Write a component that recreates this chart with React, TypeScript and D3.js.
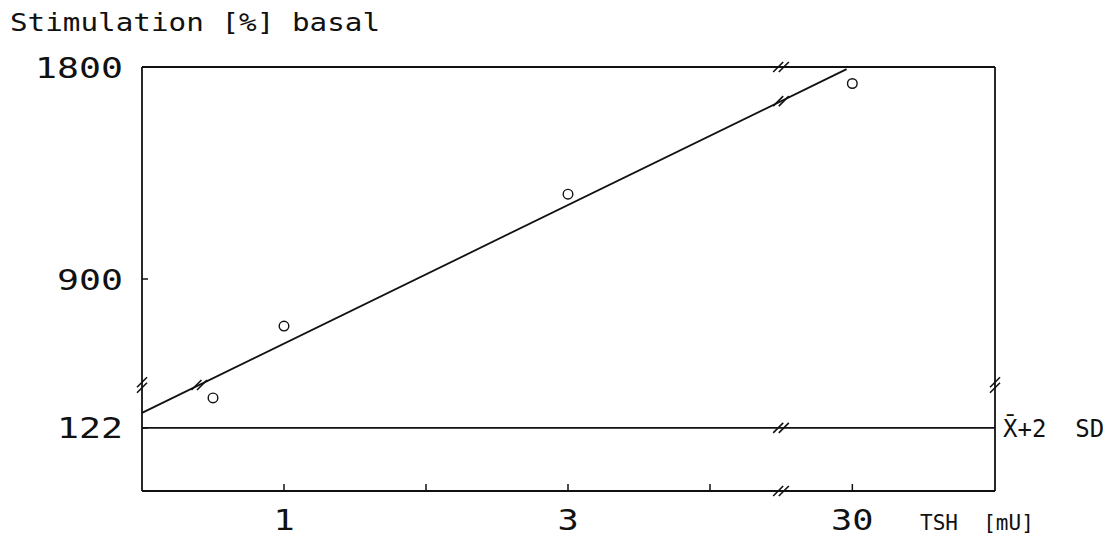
import React from "react";
import * as d3 from "d3";

// TSH dose (mU) and stimulation (% of basal)
const doseValues = [0.5, 1, 3, 30];
const stimulationValues = [180, 700, 1260, 1730];

// regression line end points
const fitDose = [0, 29.6];
const fitStimulation = [151, 1791];

// upper reference level (mean + 2 SD)
const thresholdValue = 122;

const xTickValues = [1, 2, 3, 4, 30];
const xTickLabels = ["1", "", "3", "", "30"];
const yTickValues = [122, 900, 1800];
const yTickLabels = ["122", "900", "1800"];

const W = 1117;
const H = 540;
const left = 142;
const right = 995;
const top = 67;
const bottom = 491;

// broken axes: x jumps from 4.5 to 25, y jumps from 205 to 450
const xBreak = [4.5, 25];
const yBreak = [205, 450];

const x = d3
  .scaleLinear()
  .domain([0, xBreak[0], xBreak[1], 40])
  .range([left, 781, 781, right]);

const y = d3
  .scaleLinear()
  .domain([0, yBreak[0], yBreak[1], 1800])
  .range([bottom, 385, 385, top]);

const FONT = "'DejaVu Sans Mono', monospace";
const INK = "#111";

function Label({
  x,
  y,
  text,
  size,
  sx = 1,
  anchor = "start",
}: {
  x: number;
  y: number;
  text: string;
  size: number;
  sx?: number;
  anchor?: "start" | "middle" | "end";
}) {
  return (
    <text
      transform={`translate(${x},${y}) scale(${sx},1)`}
      textAnchor={anchor}
      fontFamily={FONT}
      fontSize={size}
      fill={INK}
    >
      {text}
    </text>
  );
}

function BreakMark({ cx, cy, vertical = false }: { cx: number; cy: number; vertical?: boolean }) {
  const offs = [-2.8, 2.8];
  return (
    <g stroke={INK} strokeWidth={1.6}>
      {offs.map((o, i) => {
        const dx = vertical ? 0 : o;
        const dy = vertical ? o : 0;
        return (
          <line
            key={i}
            x1={cx + dx - 5}
            y1={cy + dy + 5}
            x2={cx + dx + 5}
            y2={cy + dy - 5}
          />
        );
      })}
    </g>
  );
}

export default function App() {
  const fitPts = fitDose.map((d, i) => [x(d), y(fitStimulation[i])] as [number, number]);
  const fitLine = d3.line()(fitPts) || "";
  const [p0, p1] = fitPts;
  // where the fitted line crosses the axis breaks
  const bx = x(xBreak[0]);
  const lineYAtBx = p0[1] + ((bx - p0[0]) / (p1[0] - p0[0])) * (p1[1] - p0[1]);
  const by = y(yBreak[0]);
  const lineXAtBy = p0[0] + ((by - p0[1]) / (p1[1] - p0[1])) * (p1[0] - p0[0]);

  return (
    <svg
      width={W}
      height={H}
      style={{ position: "absolute", left: 0, top: 0, background: "#fff" }}
    >
      <rect width={W} height={H} fill="#fff" />

      {/* frame */}
      <g stroke={INK} strokeWidth={1.8} fill="none">
        <line x1={left} y1={top} x2={right} y2={top} />
        <line x1={left} y1={bottom} x2={right} y2={bottom} />
        <line x1={left} y1={top} x2={left} y2={bottom} />
        <line x1={right} y1={top} x2={right} y2={bottom} />
      </g>

      {/* y ticks */}
      <g stroke={INK} strokeWidth={1.5}>
        {yTickValues.map((v) => (
          <line key={v} x1={left} x2={left + 6} y1={y(v)} y2={y(v)} />
        ))}
      </g>
      {yTickValues.map((v, i) => (
        <Label
          key={v}
          x={123}
          y={y(v) + 10.5}
          text={yTickLabels[i]}
          size={29}
          sx={1.26}
          anchor="end"
        />
      ))}

      {/* x ticks */}
      <g stroke={INK} strokeWidth={1.5}>
        {xTickValues.map((v) => (
          <line key={v} x1={x(v)} x2={x(v)} y1={bottom} y2={bottom - 7} />
        ))}
      </g>
      {xTickValues.map((v, i) =>
        xTickLabels[i] ? (
          <Label
            key={v}
            x={x(v)}
            y={530}
            text={xTickLabels[i]}
            size={28}
            sx={1.26}
            anchor="middle"
          />
        ) : null
      )}

      {/* threshold line */}
      <line
        x1={left}
        x2={right}
        y1={y(thresholdValue)}
        y2={y(thresholdValue)}
        stroke={INK}
        strokeWidth={1.6}
      />

      {/* regression line */}
      <path d={fitLine} stroke={INK} strokeWidth={1.8} fill="none" />

      {/* data points */}
      {doseValues.map((d, i) => (
        <circle
          key={d}
          cx={x(d)}
          cy={y(stimulationValues[i])}
          r={4.8}
          fill="#fff"
          stroke={INK}
          strokeWidth={1.4}
        />
      ))}

      {/* axis break marks */}
      <BreakMark cx={bx} cy={top} />
      <BreakMark cx={bx} cy={bottom} />
      <BreakMark cx={bx} cy={y(thresholdValue)} />
      <BreakMark cx={bx} cy={lineYAtBx} />
      <BreakMark cx={left} cy={by} vertical />
      <BreakMark cx={right} cy={by} vertical />
      <BreakMark cx={lineXAtBy} cy={by} />

      {/* titles */}
      <Label x={10} y={31} text="Stimulation [%] basal" size={24} sx={1.22} />
      <Label x={1003} y={437} text={"X\u0304+2\u00a0\u00a0SD"} size={24} sx={1.0} />
      <Label x={920} y={530} text={"TSH\u00a0\u00a0[mU]"} size={21} sx={1.0} />
    </svg>
  );
}
